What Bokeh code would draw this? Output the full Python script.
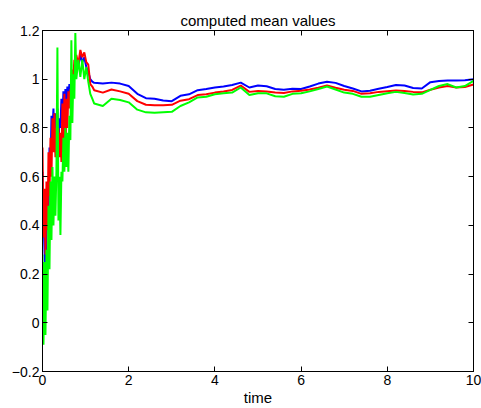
from bokeh.plotting import figure
from bokeh.models import LinearAxis, FixedTicker, Range1d, CustomJSTickFormatter
from bokeh.embed import file_html
from bokeh.resources import INLINE

# ---- data ----
time = [0.000, 0.023, 0.046, 0.069, 0.092, 0.115, 0.139, 0.162, 0.185, 0.208,
        0.231, 0.254, 0.277, 0.300, 0.323, 0.346, 0.370, 0.393, 0.416, 0.439,
        0.462, 0.485, 0.508, 0.531, 0.554, 0.577, 0.600, 0.624, 0.647, 0.670,
        0.693, 0.716, 0.739, 0.762, 0.785, 0.831, 0.878, 0.924, 0.970, 1.016,
        1.062, 1.109, 1.155,
        1.2, 1.4, 1.6, 1.8, 2.0, 2.2, 2.4, 2.6, 2.8, 3.0,
        3.2, 3.4, 3.6, 3.8, 4.0, 4.2, 4.4, 4.6, 4.8, 5.0,
        5.2, 5.4, 5.6, 5.8, 6.0, 6.2, 6.4, 6.6, 6.8, 7.0,
        7.2, 7.4, 7.6, 7.8, 8.0, 8.2, 8.4, 8.6, 8.8, 9.0,
        9.2, 9.4, 9.6, 9.8, 10.0]

mean_blue = [0.62, 0.45, 0.30, 0.15, 0.35, 0.50, 0.42, 0.72, 0.62, 0.85,
             0.78, 0.88, 0.72, 0.86, 0.76, 0.88, 0.72, 0.84, 0.80, 0.92,
             0.82, 0.95, 0.85, 0.96, 0.90, 0.97, 0.92, 0.98, 0.95, 1.00,
             1.02, 0.99, 1.06, 1.03, 1.08, 1.05, 1.10, 1.07, 1.09, 1.05,
             1.03, 1.00, 0.99,
             0.985, 0.982, 0.986, 0.982, 0.972, 0.940, 0.922, 0.920, 0.913, 0.910,
             0.932, 0.938, 0.955, 0.960, 0.966, 0.970, 0.976, 0.986, 0.966, 0.974,
             0.971, 0.960, 0.957, 0.961, 0.960, 0.970, 0.982, 0.990, 0.985, 0.972,
             0.962, 0.950, 0.953, 0.961, 0.968, 0.976, 0.974, 0.964, 0.962, 0.988,
             0.993, 0.995, 0.995, 0.996, 1.000]

mean_red = [0.72, 0.35, 0.55, 0.28, 0.58, 0.38, 0.70, 0.52, 0.76, 0.60,
            0.84, 0.70, 0.86, 0.68, 0.80, 0.66, 0.80, 0.68, 0.78, 0.66,
            0.90, 0.70, 0.94, 0.66, 0.92, 0.80, 0.95, 0.88, 0.96, 0.92,
            1.04, 1.00, 1.08, 1.04, 1.10, 1.06, 1.12, 1.09, 1.11, 1.07,
            1.06, 0.98, 0.97,
            0.955, 0.945, 0.958, 0.950, 0.940, 0.910, 0.895, 0.893, 0.893, 0.895,
            0.912, 0.918, 0.935, 0.938, 0.945, 0.950, 0.956, 0.974, 0.948, 0.952,
            0.950, 0.945, 0.943, 0.950, 0.953, 0.958, 0.965, 0.974, 0.965, 0.957,
            0.952, 0.940, 0.942, 0.948, 0.951, 0.954, 0.952, 0.948, 0.946, 0.957,
            0.966, 0.972, 0.966, 0.968, 0.978]

mean_green = [0.28, -0.09, 0.25, -0.05, 0.30, 0.05, 0.48, 0.22, 0.58, 0.34,
              0.64, 0.40, 0.60, 0.44, 0.62, 1.13, 0.42, 0.60, 0.36, 0.62,
              0.58, 0.76, 0.62, 0.80, 0.64, 0.78, 0.62, 0.85, 0.75, 1.16,
              0.82, 1.02, 0.92, 1.19, 1.00, 1.08, 1.01, 1.08, 1.00, 1.05,
              0.99, 0.94, 0.92,
              0.900, 0.890, 0.920, 0.915, 0.905, 0.875, 0.864, 0.862, 0.864, 0.866,
              0.890, 0.905, 0.925, 0.928, 0.938, 0.942, 0.945, 0.966, 0.935, 0.942,
              0.942, 0.930, 0.928, 0.940, 0.942, 0.950, 0.960, 0.970, 0.958, 0.945,
              0.940, 0.928, 0.928, 0.935, 0.942, 0.948, 0.943, 0.937, 0.940, 0.956,
              0.972, 0.980, 0.966, 0.972, 0.993]

x_ticks = [0, 2, 4, 6, 8, 10]
x_tick_labels = ["0", "2", "4", "6", "8", "10"]
y_ticks = [-0.2, 0, 0.2, 0.4, 0.6, 0.8, 1.0, 1.2]
y_tick_labels = ["\u22120.2", "0", "0.2", "0.4", "0.6", "0.8", "1", "1.2"]

FONT = "Liberation Sans"

p = figure(width=481, height=408, output_backend="svg", toolbar_location=None,
           x_range=Range1d(0, 10), y_range=Range1d(-0.2, 1.2),
           min_border_left=42, min_border_right=8, min_border_top=30,
           min_border_bottom=36, background_fill_color="white",
           border_fill_color="white")

p.title.text = "computed mean values"
p.title.align = "center"
p.title.vertical_align = "top"
p.title.text_font = FONT
p.title.text_font_size = "15px"
p.title.text_font_style = "normal"
p.title.text_color = "black"
p.title.standoff = 0
p.title.offset = 0

p.grid.visible = False
p.outline_line_color = "black"
p.outline_line_width = 1
p.outline_line_alpha = 1

for ax, ticks, labels in ((p.xaxis[0], x_ticks, x_tick_labels),
                          (p.yaxis[0], y_ticks, y_tick_labels)):
    ax.ticker = FixedTicker(ticks=ticks)
    ax.major_label_overrides = {t: l for t, l in zip(ticks, labels)}
    ax.major_tick_in = 5
    ax.major_tick_out = 0
    ax.minor_tick_line_color = None
    ax.axis_line_color = "black"
    ax.major_tick_line_color = "black"
    ax.major_label_text_font = FONT
    ax.major_label_text_font_size = "14px"
    ax.major_label_text_color = "black"
    ax.major_label_standoff = 3

p.xaxis[0].axis_label = "time"
p.xaxis[0].axis_label_text_font = FONT
p.xaxis[0].axis_label_text_font_size = "15px"
p.xaxis[0].axis_label_text_font_style = "normal"
p.xaxis[0].axis_label_text_color = "black"
p.xaxis[0].axis_label_standoff = 1

blank = CustomJSTickFormatter(code="return ''")
top = LinearAxis(ticker=FixedTicker(ticks=x_ticks), formatter=blank,
                 major_tick_in=5, major_tick_out=0, minor_tick_line_color=None,
                 major_label_standoff=0, major_label_text_font_size="0px")
right = LinearAxis(ticker=FixedTicker(ticks=y_ticks), formatter=blank,
                   major_tick_in=5, major_tick_out=0, minor_tick_line_color=None,
                   major_label_standoff=0, major_label_text_font_size="0px")
p.add_layout(top, "above")
p.add_layout(right, "right")

p.line(time, mean_blue, line_color="#0000ff", line_width=2)
p.line(time, mean_red, line_color="#ff0000", line_width=2)
p.line(time, mean_green, line_color="#00ff00", line_width=2)

open("out.html", "w").write(file_html(p, INLINE))
